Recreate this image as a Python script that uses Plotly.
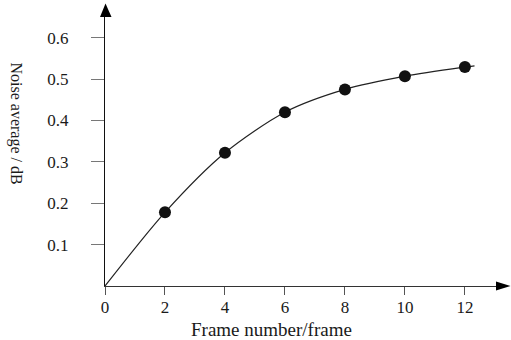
import plotly.graph_objects as go

# Data
frames = [2, 4, 6, 8, 10, 12]
noise_avg = [0.178, 0.322, 0.420, 0.475, 0.507, 0.529]

curve_x = [0, 2, 4, 6, 8, 10, 12, 12.32]
curve_y = [0.0, 0.178, 0.322, 0.420, 0.475, 0.507, 0.529, 0.532]

x_ticks = [0, 2, 4, 6, 8, 10, 12]
y_ticks = [0.1, 0.2, 0.3, 0.4, 0.5, 0.6]
y_tick_labels = ["0.1", "0.2", "0.3", "0.4", "0.5", "0.6"]

W, H = 511, 340
L, R, T, B = 105, 14, 17, 54
pw, ph = W - L - R, H - T - B

X_MAX = 13.07
Y_MAX = 0.650

FONT = "Liberation Serif, Times New Roman, serif"
TXT = "#1a1a1a"


def px(xp):
    return (xp - L) / pw


def py(yp):
    return (H - B - yp) / ph


fig = go.Figure()
fig.add_trace(go.Scatter(
    x=curve_x, y=curve_y, mode="lines",
    line=dict(color="#222222", width=1.2, shape="spline", smoothing=0.8),
    hoverinfo="skip", showlegend=False,
))
fig.add_trace(go.Scatter(
    x=frames, y=noise_avg, mode="markers",
    marker=dict(color="#111111", size=12, line=dict(width=0)),
    showlegend=False,
))

fig.update_layout(
    width=W, height=H,
    margin=dict(l=L, r=R, t=T, b=B, pad=0),
    paper_bgcolor="white", plot_bgcolor="white",
    font=dict(family=FONT, color=TXT),
    xaxis=dict(
        range=[0, X_MAX], showgrid=False, zeroline=False,
        showline=True, linecolor="#333333", linewidth=1.2,
        tickmode="array", tickvals=x_ticks, ticktext=[str(v) for v in x_ticks],
        ticks="outside", ticklen=8, tickcolor="#555555", tickwidth=1,
        tickfont=dict(family=FONT, size=17, color=TXT),
        ticklabelstandoff=-3,
        fixedrange=True,
    ),
    yaxis=dict(
        range=[0, Y_MAX], showgrid=False, zeroline=False,
        showline=True, linecolor="#111111", linewidth=1.3,
        tickmode="array", tickvals=y_ticks, ticktext=y_tick_labels,
        ticks="outside", ticklen=13, tickcolor="#777777", tickwidth=1.2,
        tickfont=dict(family=FONT, size=17, color=TXT),
        ticklabelstandoff=19,
        fixedrange=True,
    ),
    showlegend=False,
)

# axis arrows
fig.add_shape(type="path", xref="paper", yref="paper",
              path=f"M {px(105.5)} {py(3.5)} L {px(100)} {py(17)} L {px(111.5)} {py(17)} Z",
              fillcolor="#000000", line=dict(width=0))
fig.add_shape(type="path", xref="paper", yref="paper",
              path=f"M {px(510.5)} {py(286)} L {px(496)} {py(281.5)} L {px(496)} {py(290.5)} Z",
              fillcolor="#000000", line=dict(width=0))

# axis titles
fig.add_annotation(text="Frame number/frame", xref="paper", yref="paper",
                   x=px(271), y=py(329), xanchor="center", yanchor="middle",
                   showarrow=False, font=dict(family=FONT, size=19, color=TXT))
fig.add_annotation(text="Noise average / dB", xref="paper", yref="paper",
                   x=px(15.5), y=py(123), xanchor="center", yanchor="middle",
                   textangle=90, showarrow=False,
                   font=dict(family=FONT, size=16, color=TXT))

fig.write_html("out.html", config={"displayModeBar": False},
               post_script="document.body.style.margin='0';")
